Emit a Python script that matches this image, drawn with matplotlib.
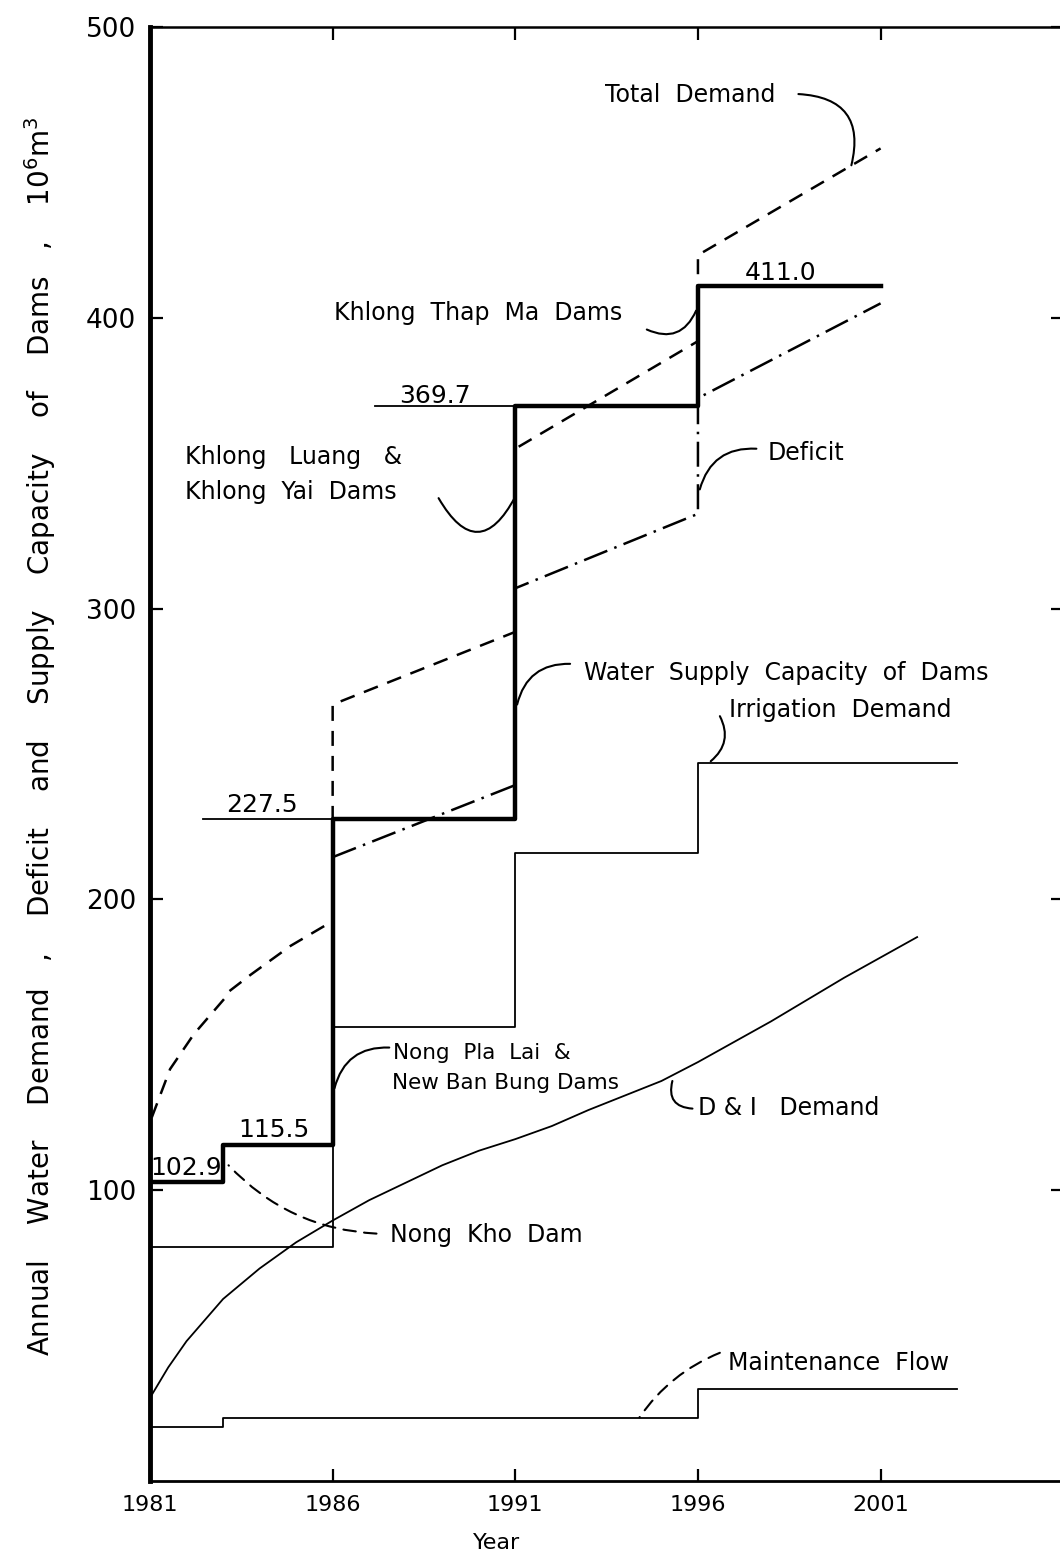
import numpy as np
import matplotlib
matplotlib.use("Agg")
import matplotlib.pyplot as plt

plt.rcParams['font.family'] = ['DejaVu Sans']

# ---- data ----
supply_years = [1981, 1983, 1986, 1991, 1996, 2001]
supply_vals = [102.9, 115.5, 227.5, 369.7, 411.0, 411.0]

irr_years = [1981, 1986, 1991, 1996, 2003.1]
irr_vals = [80.4, 156, 216, 247, 247]

maint_years = [1981, 1983, 1996, 2003.1]
maint_vals = [18.5, 21.6, 31.5, 31.5]

di_years = [1981, 1981.5, 1982, 1983, 1984, 1985, 1986, 1987, 1988, 1989, 1990,
            1991, 1992, 1993, 1994, 1995, 1996, 1997, 1998, 1999, 2000, 2001, 2002]
di_vals = [28.5, 39, 48, 62.5, 73, 82, 89.5, 96.5, 102.5, 108.5, 113.5,
           117.5, 122, 127.5, 132.5, 137.5, 144, 151, 158, 165.5, 173, 180, 187]

total_years = [1981.05, 1981.55, 1982.2, 1983.05, 1983.13, 1983.75, 1984.85, 1986,
               1986, 1991, 1991, 1996, 1996, 2001]
total_vals = [125, 141.6, 153.6, 166, 168, 174, 184, 192.5,
              267, 292, 355, 392, 421.6, 458.3]

deficit_years = [1986, 1991, 1991, 1996, 1996, 2001]
deficit_vals = [214.5, 239.3, 307, 332.6, 372.4, 405]

x_ticks = [1981, 1986, 1991, 1996, 2001]
y_ticks = [100, 200, 300, 400, 500]

W, H = 1060, 1556
fig = plt.figure(figsize=(W / 100, H / 100), dpi=100)
ax = fig.add_axes([150 / W, 1 - 1480.7 / H, 913 / W, 1453.5 / H])
ax.set_xlim(1981, 1981 + 913 / 36.53)
ax.set_ylim(0, 500)

# curves
ax.step(supply_years, supply_vals, where='post', color='black', lw=3.2, zorder=5)
ax.step(irr_years, irr_vals, where='post', color='black', lw=1.3)
ax.step(maint_years, maint_vals, where='post', color='black', lw=1.3)
ax.plot(di_years, di_vals, color='black', lw=1.3)
ax.plot(total_years, total_vals, color='black', lw=1.8, dashes=(6, 4))
ax.plot(deficit_years, deficit_vals, color='black', lw=1.8, dashes=(10, 3, 1, 3))

# label underlines
ax.plot([1982.45, 1986], [227.5, 227.5], color='black', lw=1.3)
ax.plot([1987.15, 1991], [369.7, 369.7], color='black', lw=1.3)

fs = 17
# value labels
ax.text(1984.07, 232.4, '227.5', fontsize=18, ha='center', va='center')
ax.text(1988.8, 373.1, '369.7', fontsize=18, ha='center', va='center')
ax.text(1998.27, 415.6, '411.0', fontsize=18, ha='center', va='center')
ax.text(1984.4, 120.6, '115.5', fontsize=18, ha='center', va='center')
ax.text(1982.0, 107.7, '102.9', fontsize=18, ha='center', va='center')

# captions
ax.text(1993.46, 476.6, 'Total  Demand', fontsize=fs, va='center')
ax.text(1986.04, 401.6, 'Khlong  Thap  Ma  Dams', fontsize=fs, va='center')
ax.text(1981.96, 352.2, 'Khlong   Luang   &', fontsize=fs, va='center')
ax.text(1981.96, 340.0, 'Khlong  Yai  Dams', fontsize=fs, va='center')
ax.text(1997.92, 353.5, 'Deficit', fontsize=fs, va='center')
ax.text(1992.88, 277.8, 'Water  Supply  Capacity  of  Dams', fontsize=fs, va='center')
ax.text(1996.85, 265.0, 'Irrigation  Demand', fontsize=fs, va='center')
ax.text(1987.65, 147.1, 'Nong  Pla  Lai  &', fontsize=15.5, va='center')
ax.text(1987.62, 136.8, 'New Ban Bung Dams', fontsize=15.5, va='center')
ax.text(1996.0, 128.1, 'D & I   Demand', fontsize=fs, va='center')
ax.text(1987.57, 84.4, 'Nong  Kho  Dam', fontsize=fs, va='center')
ax.text(1996.82, 40.5, 'Maintenance  Flow', fontsize=fs, va='center')

# hand-drawn leaders
def leader(p0, p1, rad, ls='-'):
    ax.annotate('', xy=p1, xytext=p0,
                arrowprops=dict(arrowstyle='-', lw=1.5, color='black', ls=ls,
                                shrinkA=0, shrinkB=0,
                                connectionstyle='arc3,rad=%s' % rad))

leader((1998.75, 477), (2000.2, 452.5), -0.6)
leader((1994.6, 396), (1995.95, 402.5), 0.5)
leader((1988.9, 338), (1991.0, 338.5), 0.9)
leader((1997.6, 355), (1996.05, 341), 0.4)
leader((1992.5, 281), (1991.05, 267), 0.4)
leader((1996.6, 263), (1996.35, 247.5), -0.4)
leader((1987.55, 149), (1986.05, 135), 0.4)
leader((1995.85, 128), (1995.3, 137.5), -0.6)
leader((1987.2, 85), (1983.15, 108.5), -0.2, ls=(0, (6, 4)))
leader((1996.6, 44), (1994.4, 21.8), 0.15, ls=(0, (6, 4)))

# axes styling
ax.set_xticks(x_ticks)
ax.set_xticklabels([str(v) for v in x_ticks], fontsize=16)
ax.set_yticks(y_ticks)
ax.set_yticklabels([str(v) for v in y_ticks], fontsize=19)
ax.tick_params(direction='in', length=9, width=1.6, top=True, right=True, pad=10)
ax.spines['left'].set_linewidth(3.5)
ax.spines['bottom'].set_linewidth(2.0)
ax.spines['top'].set_linewidth(1.8)
ax.spines['right'].set_linewidth(1.8)

fig.text(497 / W, 1 - 1543 / H, 'Year', fontsize=16, ha='center', va='center')
fig.text(40 / W, 1 - 736 / H,
         'Annual    Water    Demand   ,    Deficit    and    Supply    Capacity    of    Dams   ,    10$^6$m$^3$',
         fontsize=20, rotation=90, ha='center', va='center')

fig.savefig('out.png', dpi=100)
